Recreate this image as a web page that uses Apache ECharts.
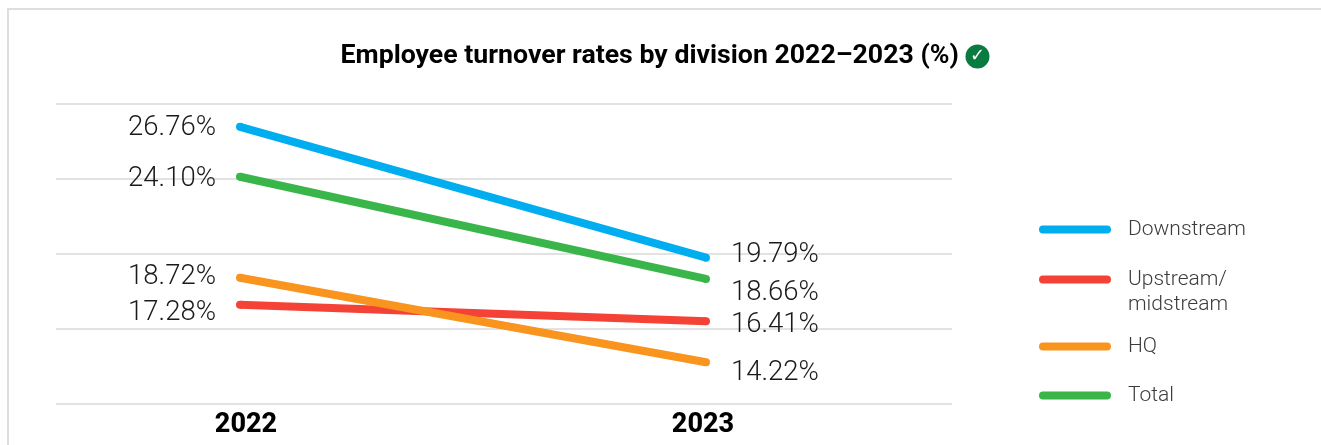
<!DOCTYPE html>
<html>
<head>
<meta charset="utf-8">
<style>
  html, body { margin: 0; padding: 0; background: #fff; }
  #frame { position: absolute; left: 7px; top: 8px; right: 0; bottom: 0; border-left: 2px solid #dedede; border-top: 2px solid #dedede; }
  #chart { position: absolute; left: 0; top: 0; width: 1321px; height: 445px; }
</style>
<script src="https://cdn.jsdelivr.net/npm/echarts@6/dist/echarts.min.js"></script>
</head>
<body>
<div id="frame"></div>
<div id="chart"></div>
<script>
const years = [2022, 2023];
const downstream = [26.76, 19.79];
const upstream = [17.28, 16.41];
const hq = [18.72, 14.22];
const total = [24.10, 18.66];
const seriesNames = ['Downstream', 'Upstream/\nmidstream', 'HQ', 'Total'];
const titleText = 'Employee turnover rates by division 2022–2023 (%)';

// Per-series drawing details: colour, legend row, and label nudges that keep labels apart.
const looks = [
  { values: downstream, color: '#00AEEF', legendTop: 217, nudge: [1, -2.5] },
  { values: upstream, color: '#F44336', legendTop: 242, nudge: [8, 4] },
  { values: hq, color: '#F9941E', legendTop: 334, nudge: [-0.5, 11] },
  { values: total, color: '#3AB54A', legendTop: 383, nudge: [2, 14] }
];

const labelFont = { fontFamily: 'Roboto', fontWeight: 300, fontSize: 27.5, color: '#1a1a1a' };
const yearFont = { fontFamily: 'Roboto', fontWeight: 800, fontSize: 27, color: '#000' };
const pillIcon = 'path://M4 0H68A4 4 0 0 1 68 8H4A4 4 0 0 1 4 0Z';

const chart = echarts.init(document.getElementById('chart'), null, { renderer: 'canvas' });

chart.setOption({
  animation: false,
  backgroundColor: 'transparent',
  title: {
    left: 660,
    textAlign: 'center',
    top: 38,
    text: titleText + ' {icon|✓}',
    textStyle: {
      fontFamily: 'Roboto',
      fontWeight: 700,
      fontSize: 26.7,
      color: '#000',
      rich: {
        icon: {
          width: 24,
          height: 24,
          lineHeight: 24,
          borderRadius: 12,
          backgroundColor: '#0A7B3E',
          color: '#fff',
          align: 'center',
          fontFamily: 'DejaVu Sans',
          fontWeight: 700,
          fontSize: 18
        }
      }
    }
  },
  grid: { left: 56, width: 896, top: 103.5, height: 300.5, containLabel: false },
  xAxis: {
    type: 'value',
    min: 2021.6052,
    max: 2023.5279,
    axisLine: { show: false },
    axisTick: { show: false },
    splitLine: { show: false },
    axisLabel: {
      customValues: years,
      margin: 8,
      formatter: v => (v === 2022 ? '{a|' + v + '}' : '{b|' + v + '}'),
      rich: {
        a: { ...yearFont, padding: [0, 0, 0, 12] },
        b: { ...yearFont, padding: [0, 6, 0, 0] }
      }
    }
  },
  yAxis: {
    type: 'value',
    min: 12,
    max: 28,
    interval: 4,
    axisLine: { show: false },
    axisTick: { show: false },
    axisLabel: { show: false },
    splitLine: { show: true, lineStyle: { color: '#d9d9d9', width: 1.5 } }
  },
  legend: looks.map((look, i) => ({
    left: 1039,
    top: look.legendTop,
    orient: 'vertical',
    selectedMode: false,
    icon: pillIcon,
    itemWidth: 72,
    itemHeight: 8,
    itemGap: 0,
    padding: 0,
    data: [seriesNames[i]],
    // A blank first row centres the key on the first line of a two-line name.
    formatter: name => (name.includes('\n') ? ' \n' + name : name),
    textStyle: { fontFamily: 'Roboto', fontWeight: 300, fontSize: 21, lineHeight: 25, color: '#3c3c3c', padding: [0, 0, 0, 12] }
  })),
  series: looks.map((look, i) => ({
    name: seriesNames[i],
    type: 'line',
    symbol: 'circle',
    symbolSize: 8,
    lineStyle: { color: look.color, width: 8 },
    itemStyle: { color: look.color },
    data: look.values.map((v, j) => ({
      value: [years[j], v],
      label: {
        show: true,
        position: j === 0 ? 'left' : 'right',
        distance: j === 0 ? 20 : 21,
        offset: [0, look.nudge[j]],
        formatter: v.toFixed(2) + '%',
        ...labelFont
      }
    }))
  }))
});
</script>
</body>
</html>
